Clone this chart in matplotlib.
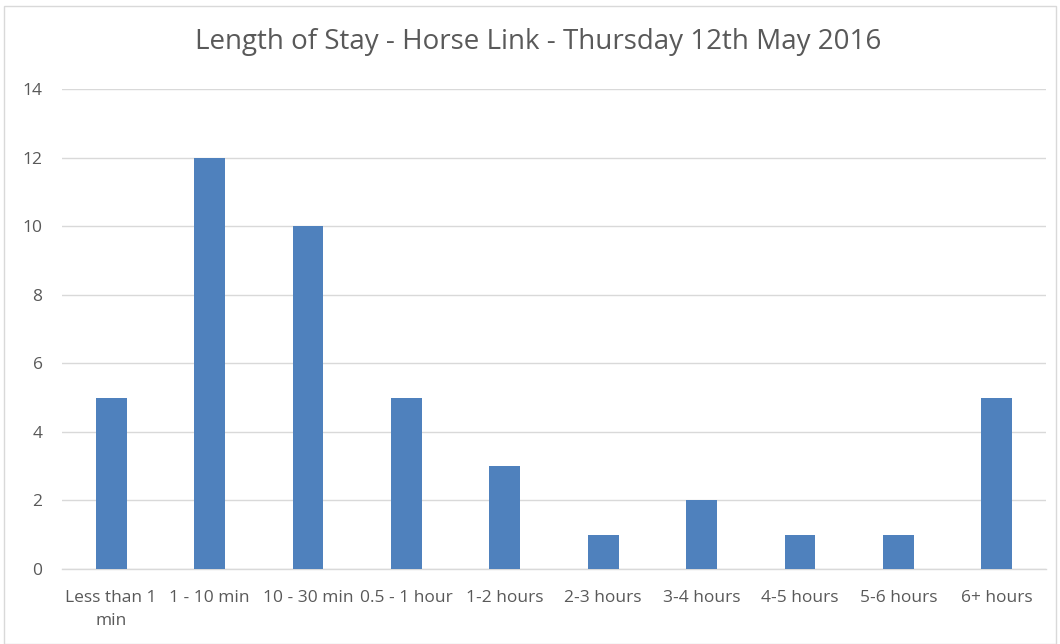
import matplotlib
matplotlib.use("Agg")
import matplotlib.pyplot as plt
from matplotlib.patches import Rectangle

categories = ["Less than 1\nmin", "1 - 10 min", "10 - 30 min", "0.5 - 1 hour", "1-2 hours",
              "2-3 hours", "3-4 hours", "4-5 hours", "5-6 hours", "6+ hours"]
values = [5, 12, 10, 5, 3, 1, 2, 1, 1, 5]
yticks = [0, 2, 4, 6, 8, 10, 12, 14]
title = "Length of Stay - Horse Link - Thursday 12th May 2016"

plt.rcParams['font.family'] = ['Open Sans', 'DejaVu Sans']
txt = '#595959'
fig = plt.figure(figsize=(10.6, 6.44), dpi=100)
ax = fig.add_axes([62/1060, 1-569/644, (1046-62)/1060, (569-89)/644])

x = list(range(len(categories)))
ax.bar(x, values, width=0.315, color='#4F81BD', zorder=3)
ax.set_xlim(-0.5, len(categories) - 0.5)
ax.set_ylim(0, 14)
ax.set_yticks(yticks)
ax.set_yticklabels([str(v) for v in yticks])
ax.set_xticks(x)
ax.set_xticklabels(categories, linespacing=1.6)
ax.tick_params(axis='both', length=0, colors=txt, labelsize=12.5)
ax.tick_params(axis='x', pad=15)
ax.tick_params(axis='y', pad=14)
ax.grid(axis='y', color='#D9D9D9', linewidth=1, zorder=0)
for s in ['top', 'right', 'left']:
    ax.spines[s].set_visible(False)
ax.spines['bottom'].set_color('#D9D9D9')
ax.spines['bottom'].set_linewidth(1)

fig.text(538/1060, 1-42/644, title, ha='center', va='center', fontsize=20, color=txt)
fig.patches.append(Rectangle((4/1060, 0.5/644), 1052/1060, 638/644, transform=fig.transFigure,
                             fill=False, edgecolor='#D9D9D9', linewidth=1))
fig.savefig("out.png", dpi=100)
